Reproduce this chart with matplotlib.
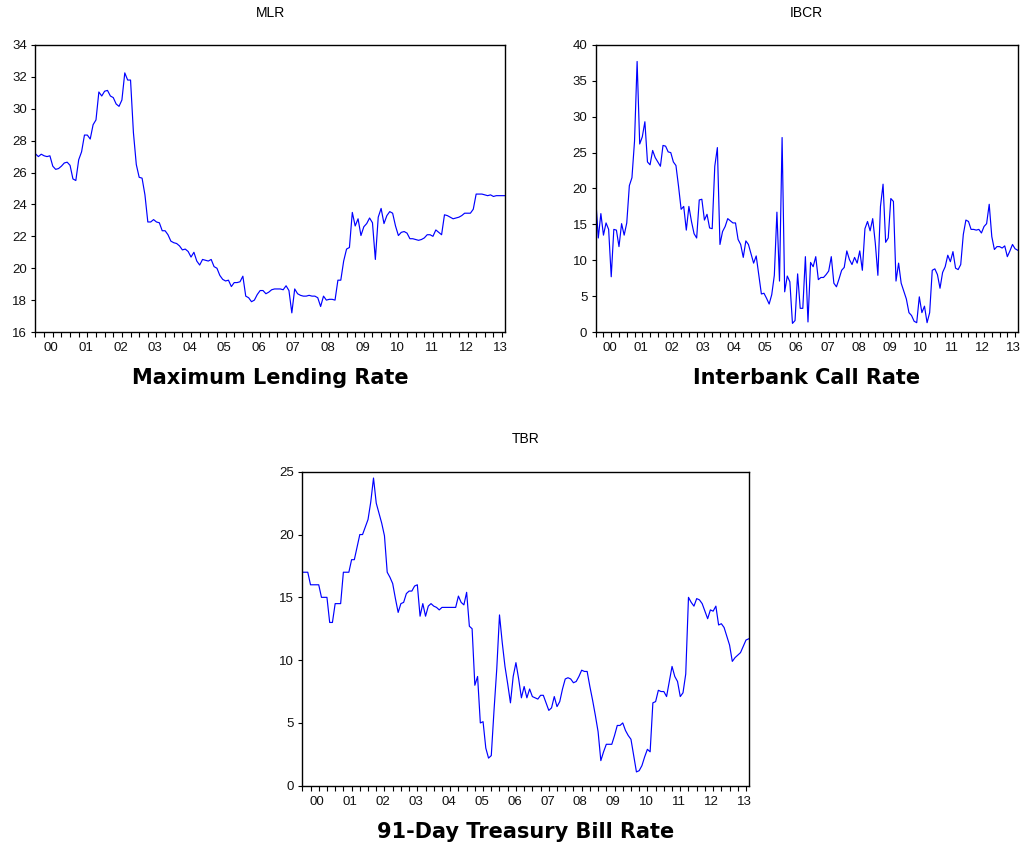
import matplotlib
matplotlib.use("Agg")
import matplotlib.pyplot as plt
import numpy as np

START_YEAR = 2000
LINE_COLOR = "#0000ff"

# monthly observations, 2000M01 .. 2013M08
mlr = [
    27.17, 27.0, 27.15, 27.05, 27.0, 27.05, 26.4, 26.2, 26.25, 26.4, 26.6, 26.65,
    26.45, 25.6, 25.5, 26.8, 27.3, 28.35, 28.35, 28.1, 29.0, 29.3, 31.05, 30.8,
    31.1, 31.15, 30.8, 30.7, 30.3, 30.15, 30.55, 32.25, 31.8, 31.8, 28.5, 26.5,
    25.7, 25.65, 24.6, 22.9, 22.9, 23.05, 22.9, 22.85, 22.35, 22.35, 22.1, 21.7,
    21.6, 21.55, 21.4, 21.15, 21.2, 21.05, 20.7, 21.0, 20.45, 20.2, 20.55, 20.5,
    20.45, 20.55, 20.1, 20.0, 19.55, 19.3, 19.2, 19.25, 18.85, 19.1, 19.1, 19.15,
    19.5, 18.25, 18.15, 17.9, 18.0, 18.35, 18.6, 18.6, 18.4, 18.5, 18.65, 18.7,
    18.7, 18.7, 18.65, 18.9, 18.6, 17.2, 18.7, 18.4, 18.3, 18.25, 18.25, 18.3,
    18.25, 18.25, 18.15, 17.6, 18.25, 18.0, 18.05, 18.05, 18.0, 19.25, 19.25, 20.45,
    21.2, 21.3, 23.5, 22.65, 23.1, 22.05, 22.6, 22.8, 23.15, 22.85, 20.55, 23.2,
    23.75, 22.8, 23.3, 23.55, 23.45, 22.65, 22.05, 22.25, 22.3, 22.2, 21.85, 21.85,
    21.8, 21.75, 21.8, 21.9, 22.1, 22.1, 22.0, 22.4, 22.25, 22.1, 23.35, 23.3,
    23.2, 23.1, 23.15, 23.2, 23.3, 23.45, 23.45, 23.45, 23.7, 24.65, 24.65, 24.65,
    24.6, 24.55, 24.6, 24.5, 24.55, 24.55, 24.55, 24.55,
]

ibcr = [
    18.6, 13.1, 16.5, 13.5, 15.2, 14.3, 7.7, 14.3, 14.2, 11.9,
    15.1, 13.5, 15.2, 20.4, 21.5, 26.6, 37.7, 26.2, 27.2, 29.3,
    23.7, 23.3, 25.3, 24.3, 23.7, 23.1, 26.0, 25.9, 25.1, 25.0,
    23.7, 23.2, 20.3, 17.1, 17.5, 14.2, 17.5, 15.4, 13.7, 13.1,
    18.4, 18.5, 15.6, 16.4, 14.5, 14.4, 23.1, 25.7, 12.2, 14.0,
    14.7, 15.8, 15.5, 15.2, 15.2, 12.9, 12.2, 10.4, 12.7, 12.2,
    10.9, 9.6, 10.6, 7.9, 5.3, 5.4, 4.7, 3.9, 5.2, 7.9,
    16.7, 7.1, 27.1, 5.6, 7.8,
    7.0, 1.2, 1.6, 8.1, 3.3, 3.3, 10.5, 1.4, 9.7, 9.1,
    10.5, 7.3, 7.6, 7.6, 8.0, 8.5, 10.5, 6.8, 6.3, 7.4,
    8.6, 9.0, 11.3, 10.1, 9.4, 10.4, 9.6, 11.3, 8.6, 14.4,
    15.4, 14.1, 15.8, 12.4, 7.9, 17.5, 20.6, 12.5, 13.1, 18.6,
    18.2, 7.1, 9.6, 6.8, 5.7, 4.6, 2.7, 2.3, 1.5, 1.3,
    4.9, 2.7, 3.6, 1.3, 2.7, 8.6, 8.8, 8.0, 6.1, 8.3,
    9.1, 10.7, 9.8, 11.2, 8.9, 8.7, 9.4, 13.6, 15.6, 15.4,
    14.3, 14.3, 14.2, 14.3, 13.8, 14.7, 15.1, 17.8, 13.3, 11.5,
    11.9, 11.9, 11.7, 12.0, 10.5, 11.3, 12.2, 11.6, 11.4,
]

tbr = [
    17.0, 17.0, 17.0, 16.0, 16.0, 16.0, 16.0, 15.0, 15.0, 15.0,
    13.0, 13.0, 14.5, 14.5, 14.5, 17.0, 17.0, 17.0, 18.0, 18.0,
    19.0, 20.0, 20.0, 20.6, 21.2, 22.6, 24.5, 22.5, 21.7, 20.9,
    19.9, 17.0, 16.6, 16.1, 14.9, 13.8, 14.5, 14.6, 15.3, 15.5,
    15.5, 15.9, 16.0, 13.5, 14.5, 13.5, 14.3, 14.5, 14.3, 14.2,
    14.0, 14.2, 14.2, 14.2, 14.2, 14.2, 14.2, 15.1, 14.6, 14.4,
    15.4, 12.7, 12.5, 8.0, 8.7, 5.0, 5.1, 3.0, 2.2, 2.4,
    6.0, 9.3, 13.6,
    11.4, 9.5, 8.1, 6.6, 8.7, 9.8, 8.5, 7.0, 7.9, 7.0,
    7.7, 7.1, 7.0, 6.9, 7.2, 7.2, 6.6, 6.0, 6.2, 7.1,
    6.3, 6.7, 7.7, 8.5, 8.6, 8.5, 8.2, 8.3, 8.7, 9.2,
    9.1, 9.1, 7.9, 6.8, 5.6, 4.3, 2.0, 2.7, 3.3, 3.3,
    3.3, 4.0, 4.8, 4.8, 5.0, 4.4, 4.0, 3.7, 2.4, 1.1,
    1.2, 1.6, 2.3, 2.9, 2.7, 6.6, 6.7, 7.6, 7.5, 7.5,
    7.1, 8.3, 9.5, 8.7, 8.3, 7.1, 7.4, 8.9, 15.0, 14.6,
    14.3, 14.9, 14.8, 14.5, 13.9, 13.3, 14.0, 13.9, 14.3, 12.8,
    12.9, 12.6, 11.9, 11.2, 9.9, 10.2, 10.4, 10.6, 11.1, 11.6,
    11.7,
]

year_labels = ["%02d" % k for k in range(14)]

plt.rcParams["font.family"] = ["Liberation Sans", "DejaVu Sans"]


def panel(fig, rect, values, ylim, yticks, name, caption, caption_y):
    ax = fig.add_axes(rect)
    x = np.arange(len(values))
    ax.plot(x, values, color=LINE_COLOR, lw=0.85)
    ax.set_xlim(0, len(values) - 1)
    ax.set_ylim(*ylim)
    ax.set_yticks(yticks)

    # year labels centred on each year, quarterly ticks on the axis
    centres = [12 * k + 5.5 for k in range(len(year_labels))]
    ax.set_xticks(centres, year_labels)
    ax.set_xticks(np.arange(0, len(values), 3), minor=True)
    ax.tick_params(axis="x", which="major", length=0, pad=7.5, labelsize=9.5,
                   labelcolor="#111111")
    ax.tick_params(axis="x", which="minor", length=3.5, width=0.8, direction="out")
    ax.tick_params(axis="y", length=3, width=0.8, pad=3, labelsize=9.5,
                   labelcolor="#111111")
    for s in ax.spines.values():
        s.set_linewidth(1.0)

    cx = rect[0] + rect[2] / 2
    top = rect[1] + rect[3]
    fig.text(cx, top + 0.038, name, ha="center", va="center", fontsize=10)
    fig.text(cx, caption_y, caption, ha="center", va="center",
             fontsize=15, fontweight="bold", family="DejaVu Sans")
    return ax


fig = plt.figure(figsize=(10.23, 8.5), dpi=100)

panel(fig, [0.0347, 0.6094, 0.4589, 0.3377], mlr, (16, 34),
      range(16, 35, 2), "MLR", "Maximum Lending Rate", 0.555)
panel(fig, [0.5823, 0.6094, 0.4125, 0.3377], ibcr, (0, 40),
      range(0, 41, 5), "IBCR", "Interbank Call Rate", 0.555)
panel(fig, [0.2955, 0.0756, 0.4364, 0.3694], tbr, (0, 25),
      range(0, 26, 5), "TBR", "91-Day Treasury Bill Rate", 0.021)

fig.savefig("out.png", dpi=100)
